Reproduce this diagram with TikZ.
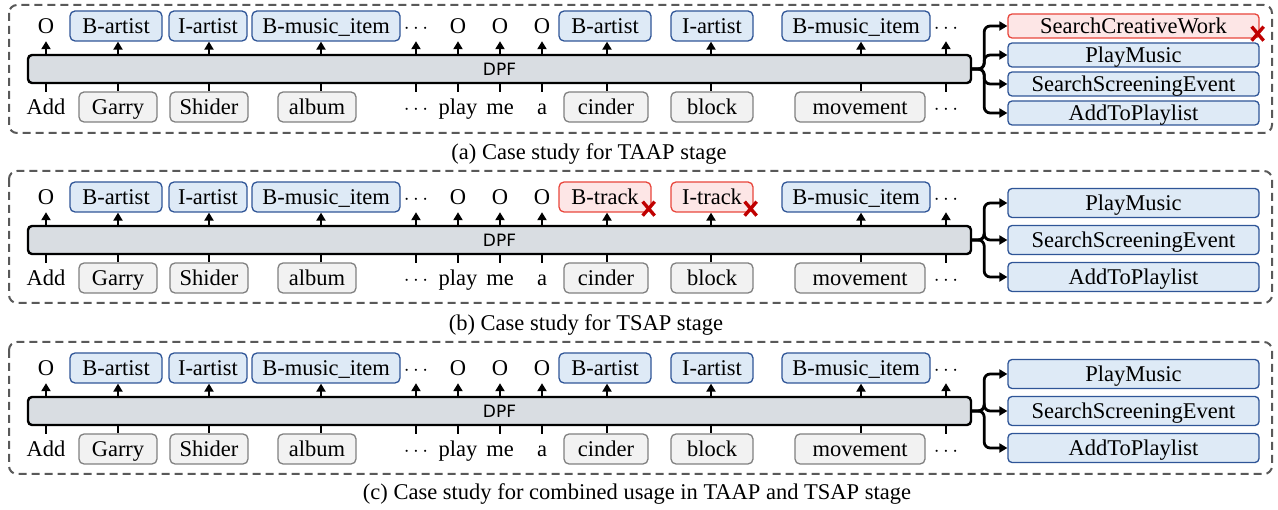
\documentclass[tikz,border=0pt]{standalone}
\usepackage{fontspec}
\setmainfont{Liberation Serif}
\newfontfamily\serifface{Liberation Serif}
\newfontfamily\dpffont{DejaVu Sans}
\usetikzlibrary{arrows.meta}
\definecolor{bluefill}{HTML}{DEEAF6}
\definecolor{blueline}{HTML}{2F5597}
\definecolor{redfill}{HTML}{FDE6E6}
\definecolor{redline}{HTML}{E8463C}
\definecolor{grayfill}{HTML}{F2F2F2}
\definecolor{grayline}{HTML}{808080}
\definecolor{dpffill}{HTML}{D9DDE2}
\definecolor{panelline}{HTML}{595959}
\definecolor{xred}{HTML}{C00000}
\tikzset{
  base/.style={inner sep=0pt, text height=16pt, text depth=-1pt, font=\serifface\fontsize{22.5}{24}\selectfont},
  plain/.style={base, minimum height=30pt},
  lab/.style={base, draw=blueline, fill=bluefill, line width=1.3pt, rounded corners=5pt, minimum height=30pt},
  wrong/.style={base, draw=redline, fill=redfill, line width=1.3pt, rounded corners=5pt, minimum height=30pt},
  word/.style={base, draw=grayline, fill=grayfill, line width=1.3pt, rounded corners=5pt, minimum height=30pt},
  intent/.style={base, draw=blueline, fill=bluefill, line width=1.3pt, rounded corners=4pt, minimum width=251pt},
  badintent/.style={base, draw=redline, fill=redfill, line width=1.3pt, rounded corners=4pt, minimum width=251pt},
  dpf/.style={draw=black, line width=2.4pt, fill=dpffill, rounded corners=4pt, minimum width=943pt, minimum height=28pt, inner sep=0pt, font=\dpffont\fontsize{17}{18}\selectfont},
  up/.style={line width=2.6pt, -{Triangle[length=8pt,width=9pt]}},
  stub/.style={line width=2.8pt},
  branch/.style={line width=2.8pt, rounded corners=6pt, -{Triangle[length=8pt,width=9pt]}},
  panel/.style={draw=panelline, line width=2pt, dash pattern=on 8pt off 5pt, rounded corners=8pt},
  xmark/.style={draw=xred, line width=3.4pt},
  caption/.style={anchor=base, font=\serifface\fontsize{22.5}{24}\selectfont},
}
\newcommand\casepanel[5]{%
  \coordinate (k1#1) at (46,0);
  \coordinate (k2#1) at (118,0);
  \coordinate (k3#1) at (209,0);
  \coordinate (k4#1) at (321,0);
  \coordinate (k5#1) at (416,0);
  \coordinate (k6#1) at (458,0);
  \coordinate (k7#1) at (500,0);
  \coordinate (k8#1) at (542,0);
  \coordinate (k9#1) at (607,0);
  \coordinate (k10#1) at (711,0);
  \coordinate (k11#1) at (861,0);
  \coordinate (k12#1) at (946,0);
  \node[plain] (t1#1) at (46,26) {O};
  \node[lab, minimum width=92pt] (t2#1) at (116,26) {B-artist};
  \node[lab, minimum width=78pt] (t3#1) at (208,26) {I-artist};
  \node[lab, minimum width=148pt] (t4#1) at (326,26) {B-music\_item};
  \node[plain] (t5#1) at (416,26) {$\cdots$};
  \node[plain] (t6#1) at (458,26) {O};
  \node[plain] (t7#1) at (500,26) {O};
  \node[plain] (t8#1) at (542,26) {O};
  \node[#2, minimum width=92pt] (t9#1) at (605,26) {#3};
  \node[#4, minimum width=82pt] (t10#1) at (712,26) {#5};
  \node[lab, minimum width=148pt] (t11#1) at (856,26) {B-music\_item};
  \node[plain] (t12#1) at (946,26) {$\cdots$};
  \node[dpf] (d#1) at (499.5,69) {DPF};
  \node[plain] (b1#1) at (46,107) {Add};
  \node[word, minimum width=78pt] (b2#1) at (118,107) {Garry};
  \node[word, minimum width=78pt] (b3#1) at (209,107) {Shider};
  \node[word, minimum width=78pt] (b4#1) at (317,107) {album};
  \node[plain] (b5#1) at (416,107) {$\cdots$};
  \node[plain] (b6#1) at (458,107) {play};
  \node[plain] (b7#1) at (500,107) {me};
  \node[plain] (b8#1) at (542,107) {a};
  \node[word, minimum width=84pt] (b9#1) at (606,107) {cinder};
  \node[word, minimum width=82pt] (b10#1) at (712,107) {block};
  \node[word, minimum width=130pt] (b11#1) at (860,107) {movement};
  \node[plain] (b12#1) at (946,107) {$\cdots$};
  \foreach \i in {1,...,12} {
    \draw[up] (d#1.north -| k\i#1) -- (t\i#1.south -| k\i#1);
    \draw[stub] (d#1.south -| k\i#1) -- (b\i#1.north -| k\i#1);
  }
}
\begin{document}
\begin{tikzpicture}[x=1pt, y=-1pt]
\useasboundingbox (0,0) rectangle (1278,510);
% panel frames
\draw[panel] (9,5) rectangle (1272,133);
\draw[panel] (9,171) rectangle (1272,303);
\draw[panel] (9,342) rectangle (1272,474);

% (a)
\casepanel{a}{lab}{B-artist}{lab}{I-artist}
\node[badintent, minimum height=24pt] (ia1) at (1133.5,26) {SearchCreativeWork};
\node[intent, minimum height=24pt] (ia2) at (1133.5,55) {PlayMusic};
\node[intent, minimum height=24pt] (ia3) at (1133.5,84) {SearchScreeningEvent};
\node[intent, minimum height=24pt] (ia4) at (1133.5,113) {AddToPlaylist};
\foreach \j in {1,...,4} {\draw[branch] (da.east) -- ++(12,0) |- (ia\j.west);}
\coordinate (xa) at ([shift={(-2,-5)}]ia1.south east);
\draw[xmark] (xa) ++(-6,-7) -- ++(12,14) (xa) ++(6,-7) -- ++(-12,14);
\node[caption] (capa) at (589,160) {(a) Case study for TAAP stage};

% (b)
\begin{scope}[yshift=-171pt]
\casepanel{b}{wrong}{B-track}{wrong}{I-track}
\node[intent, minimum height=29pt] (ib1) at (1133.5,32) {PlayMusic};
\node[intent, minimum height=29pt] (ib2) at (1133.5,69) {SearchScreeningEvent};
\node[intent, minimum height=29pt] (ib3) at (1133.5,106) {AddToPlaylist};
\foreach \j in {1,...,3} {\draw[branch] (db.east) -- ++(12,0) |- (ib\j.west);}
\coordinate (xb1) at ([shift={(-3,-4)}]t9b.south east);
\coordinate (xb2) at ([shift={(-3,-4)}]t10b.south east);
\draw[xmark] (xb1) ++(-6,-7) -- ++(12,14) (xb1) ++(6,-7) -- ++(-12,14);
\draw[xmark] (xb2) ++(-6,-7) -- ++(12,14) (xb2) ++(6,-7) -- ++(-12,14);
\end{scope}
\node[caption] (capb) at (586,331) {(b) Case study for TSAP stage};

% (c)
\begin{scope}[yshift=-342pt]
\casepanel{c}{lab}{B-artist}{lab}{I-artist}
\node[intent, minimum height=29pt] (ic1) at (1133.5,32) {PlayMusic};
\node[intent, minimum height=29pt] (ic2) at (1133.5,69) {SearchScreeningEvent};
\node[intent, minimum height=29pt] (ic3) at (1133.5,106) {AddToPlaylist};
\foreach \j in {1,...,3} {\draw[branch] (dc.east) -- ++(12,0) |- (ic\j.west);}
\end{scope}
\node[caption] (capc) at (637,500) {(c) Case study for combined usage in TAAP and TSAP stage};
\end{tikzpicture}
\end{document}
